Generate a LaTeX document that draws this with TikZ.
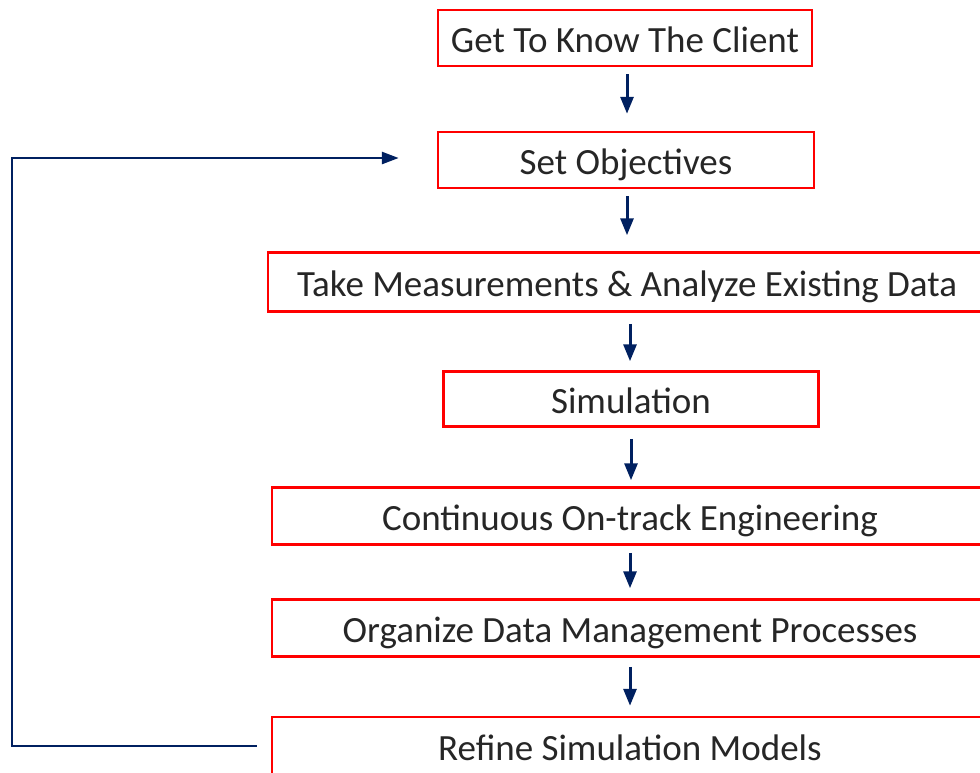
\documentclass[tikz,border=0pt]{standalone}
\usepackage{fontspec}
\setmainfont{Carlito}
\usetikzlibrary{arrows.meta,calc}
\definecolor{boxred}{HTML}{FF0000}
\definecolor{navy}{HTML}{002060}
\definecolor{txt}{HTML}{262626}
\tikzset{
  stepbox/.style={draw=boxred, line width=2.5pt, text=txt, inner sep=0pt,
    text height=29pt, text depth=0pt,
    font=\fontsize{37}{42}\selectfont},
  arr/.style={draw=navy, line width=3pt, -{Triangle[length=17pt,width=13pt]}},
  loopline/.style={draw=navy, line width=2.8pt, -{Triangle[length=17pt,width=12pt]}}
}
\begin{document}
\begin{tikzpicture}[x=1pt,y=-1pt]
\useasboundingbox (0,0) rectangle (980,772);
\clip (0,0) rectangle (980,772);
\node[stepbox, minimum width=374pt, minimum height=56pt] (n1) at (625,38) {Get To Know The Client};
\node[stepbox, minimum width=376pt, minimum height=56pt] (n2) at (626,160) {Set Objectives};
\node[stepbox, minimum width=718pt, minimum height=59pt] (n3) at (627,282) {Take Measurements \& Analyze Existing Data};
\node[stepbox, minimum width=375pt, minimum height=55pt] (n4) at (631,399) {Simulation};
\node[stepbox, minimum width=716pt, minimum height=57pt] (n5) at (630,516) {Continuous On-track Engineering};
\node[stepbox, minimum width=716pt, minimum height=57pt] (n6) at (630,628) {Organize Data Management Processes};
\node[stepbox, minimum width=716pt, minimum height=58pt] (n7) at (630,746) {Refine Simulation Models};
\draw[arr, shorten <=7pt, shorten >=17pt] ([xshift=2pt]n1.south) -- ([xshift=2pt]n1.south |- n2.north);
\draw[arr, shorten <=7pt, shorten >=16pt] ([xshift=1pt]n2.south) -- ([xshift=1pt]n2.south |- n3.north);
\draw[arr, shorten <=11pt, shorten >=9pt] ([xshift=3pt]n3.south) -- ([xshift=3pt]n3.south |- n4.north);
\draw[arr, shorten <=11pt, shorten >=6pt] (n4.south) -- (n4.south |- n5.north);
\draw[arr, shorten <=7pt, shorten >=10pt] (n5.south) -- (n5.south |- n6.north);
\draw[arr, shorten <=9pt, shorten >=10pt] (n6.south) -- (n6.south |- n7.north);
\coordinate (c) at (12,158);
\draw[loopline] ([xshift=-14pt]n7.west) -- (n7.west -| c) -- (c) -- ([xshift=-38pt]n2.west |- c);
\end{tikzpicture}
\end{document}
